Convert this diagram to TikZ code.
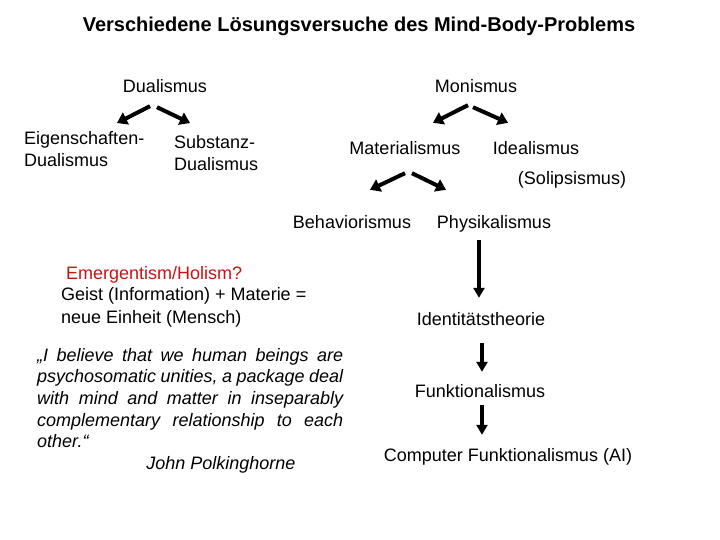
\documentclass[tikz,border=0pt]{standalone}
\usepackage{fontspec}
\setmainfont{Liberation Sans}
\usetikzlibrary{arrows.meta}

\definecolor{holred}{RGB}{200,20,20}

\tikzset{
    lbl/.style={font=\fontsize{18}{21.5}\selectfont, inner sep=0pt},
    word/.style={lbl, text height=13pt, text depth=0pt},
    fat/.style={line width=4pt, -{Triangle[length=10pt, width=13pt]}},
    down/.style={line width=3.5pt, -{Triangle[length=10pt, width=11pt]}}
}

\begin{document}
\begin{tikzpicture}[x=1pt, y=-1pt]
    \useasboundingbox (0,0) rectangle (720,540);

    % Title
    \node[word, font=\fontsize{20}{23}\selectfont\bfseries] (title) at (359,25) {Verschiedene Lösungsversuche des Mind-Body-Problems};

    % Draw the two main branches
    \node[word] (dual) at (165,86) {Dualismus};
    \node[word] (mon) at (476,86) {Monismus};

    % Dualism side
    \node[lbl, align=left, anchor=north west, font=\fontsize{18}{22}\selectfont] (eig) at (24,131) {Eigenschaften-\\Dualismus};
    \node[lbl, align=left, anchor=north west, font=\fontsize{18}{22}\selectfont] (sub) at (174,135) {Substanz-\\Dualismus};

    % Monism side
    \node[word] (mat) at (405,148) {Materialismus};
    \node[word] (ideal) at (536,148) {Idealismus};
    \node[word] (sol) at (572,178) {(Solipsismus)};
    \node[word] (beh) at (352,222) {Behaviorismus};
    \node[word] (phys) at (494,222) {Physikalismus};

    % Physicalist chain
    \node[word] (ident) at (481,319) {Identitätstheorie};
    \node[word] (funk) at (480,391) {Funktionalismus};
    \node[word] (comp) at (508,455) {Computer Funktionalismus (AI)};

    % Emergentism and quote
    \node[word, holred, anchor=west] (emer) at (66,273) {Emergentism/Holism?};
    \node[lbl, align=left, anchor=north west, font=\fontsize{18}{23}\selectfont] (geist) at (61,287) {Geist (Information) + Materie =\\neue Einheit (Mensch)};
    \node[lbl, anchor=north west, text width=306pt, align=justify, font=\fontsize{18}{21.6}\selectfont\itshape] (quote) at (37,348)
        {„I believe that we human beings are\linebreak psychosomatic unities, a package deal\linebreak with mind and matter in inseparably\linebreak complementary relationship to each\linebreak other.“};
    \node[word, font=\fontsize{18}{21.5}\selectfont\itshape] (john) at (221,463) {John Polkinghorne};

    % Draw the arrows
    \draw[fat] ([shift={(-15,13.5)}]dual.south) -- ([shift={(93,-8)}]eig.north west);
    \draw[fat] ([shift={(-8,14.5)}]dual.south) -- ([shift={(16,-12)}]sub.north west);
    \draw[fat] ([shift={(-8,12.5)}]mon.south) -- ([shift={(28,-18.5)}]mat.north);
    \draw[fat] ([shift={(-3,14.5)}]mon.south) -- ([shift={(-28,-18.5)}]ideal.north);
    \draw[fat] ([shift={(0,18.5)}]mat.south) -- ([shift={(18,-25.5)}]beh.north);
    \draw[fat] ([shift={(7,18.5)}]mat.south) -- ([shift={(-48,-25.5)}]phys.north);
    \draw[down] ([shift={(-15,11.5)}]phys.south) -- ([shift={(-2,-14.5)}]ident.north);
    \draw[down] ([shift={(1,17.5)}]ident.south) -- ([shift={(2,-12.5)}]funk.north);
    \draw[down] ([shift={(2,7.5)}]funk.south) -- ([shift={(-26,-13.5)}]comp.north);
\end{tikzpicture}
\end{document}
